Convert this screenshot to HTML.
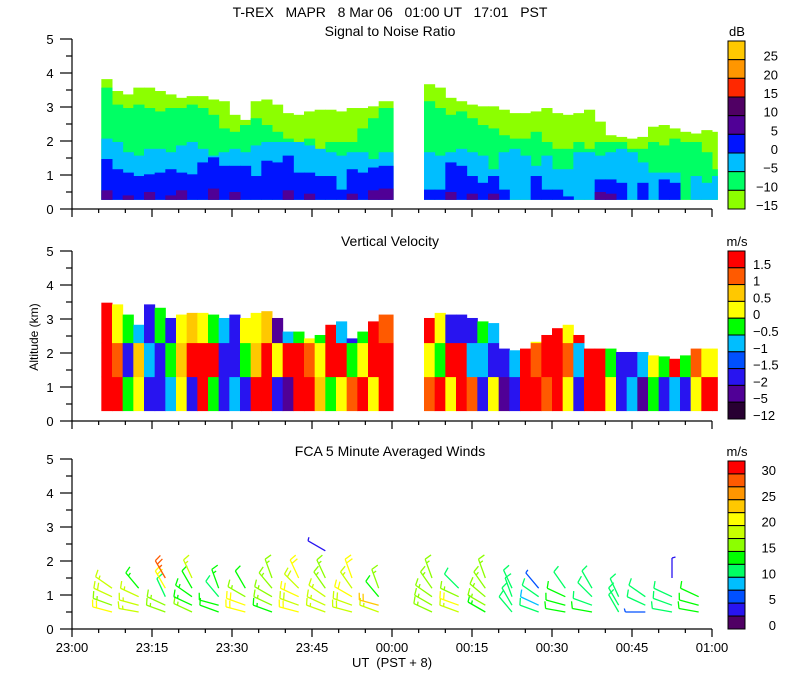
<!DOCTYPE html>
<html><head><meta charset="utf-8"><style>
html,body{margin:0;padding:0;background:#fff;}
svg{display:block;font-family:"Liberation Sans",sans-serif;}
</style></head><body>
<svg id="chart" width="800" height="700" viewBox="0 0 800 700" xmlns="http://www.w3.org/2000/svg">
<text x="390" y="17" font-size="14" text-anchor="middle" style="white-space:pre">T-REX   MAPR   8 Mar 06   01:00 UT   17:01   PST</text>
<text x="390" y="36" font-size="14" text-anchor="middle">Signal to Noise Ratio</text>
<text x="390" y="246" font-size="14" text-anchor="middle">Vertical Velocity</text>
<text x="390" y="456" font-size="14" text-anchor="middle">FCA 5 Minute Averaged Winds</text>
<text x="38" y="337" font-size="12" text-anchor="middle" transform="rotate(-90 38 337)">Altitude (km)</text>
<text x="392" y="667" font-size="13" text-anchor="middle" style="white-space:pre">UT  (PST + 8)</text>
<g id="layers"></g>
</svg>
<script>
// ---- shared axis data ----
const xTickLabels = ["23:00","23:15","23:30","23:45","00:00","00:15","00:30","00:45","01:00"];
const yTickLabels = ["0","1","2","3","4","5"];
// ---- SNR panel data (altitudes in km of class tops) ----
const snrTimes1 = [5.5,7.5,9.5,11.5,13.5,15.5,17.5,19.5,21.5,23.5,25.5,27.5,29.5,31.5,33.5,35.5,37.5,39.5,41.5,43.5,45.5,47.5,49.5,51.5,53.5,55.5,57.5];
const snrTimes2 = [66,68,70,72,74,76,78,80,82,84,86,88,90,92,94,96,98,100,102,104,106,108,110,112,114,116,118,120];
const snrTop = [3.82,3.47,3.37,3.57,3.57,3.47,3.37,3.27,3.32,3.32,3.22,3.17,2.77,2.62,3.17,3.22,3.07,2.82,2.77,2.87,2.92,2.92,2.87,2.97,2.97,3.02,3.17,
 3.67,3.57,3.27,3.17,3.07,3.02,3.02,2.92,2.82,2.82,2.87,2.97,2.82,2.77,2.82,2.92,2.57,2.17,2.12,2.07,2.12,2.42,2.47,2.37,2.27,2.22,2.32,2.27];
const snrGreenTop = [3.57,3.07,2.97,3.07,2.97,2.87,2.97,2.97,3.07,2.97,2.77,2.37,2.27,2.47,2.67,2.47,2.27,2.07,1.97,2.07,1.67,1.97,1.97,1.97,2.37,2.67,2.97,
 3.17,2.97,2.77,2.87,2.67,2.47,2.37,2.17,2.07,2.07,2.27,1.97,1.77,1.77,1.97,1.77,1.97,1.97,1.97,1.77,1.77,1.97,1.87,2.07,1.97,1.97,1.67,1.17];
const snrCyanTop = [2.07,1.97,1.67,1.57,1.77,1.77,1.67,1.87,1.97,1.77,1.57,1.67,1.77,1.67,1.87,1.97,1.97,1.97,1.97,1.87,1.77,1.67,1.57,1.67,1.67,1.47,1.67,
 1.67,1.57,1.67,1.77,1.67,1.57,1.17,1.67,1.77,1.57,1.27,1.57,1.17,1.17,1.67,1.67,1.57,1.67,1.77,1.67,1.37,1.07,1.07,1.07,0.27,0.97,0.77,0.97];
const snrBlueTop = [1.47,1.17,1.07,0.97,1.02,1.07,1.17,1.07,1.02,1.37,1.52,1.27,1.27,1.27,0.97,1.42,1.37,1.57,1.07,1.07,0.97,0.97,0.57,1.17,1.07,1.22,1.27,
 0.57,0.57,1.37,1.27,0.97,0.77,0.97,0.57,0.27,0.27,0.97,0.57,0.57,0.37,0.27,0.27,0.87,0.87,0.77,0.27,0.77,0.27,0.87,0.77,0.27,0.27,0.27,0.27];
const snrPurpleTop = [0.55,0.27,0.4,0.27,0.5,0.27,0.4,0.55,0.27,0.27,0.6,0.27,0.5,0.27,0.27,0.27,0.27,0.55,0.27,0.45,0.27,0.27,0.27,0.45,0.27,0.55,0.6,
 0.27,0.27,0.5,0.27,0.45,0.27,0.45,0.27,0.27,0.27,0.27,0.27,0.27,0.27,0.27,0.27,0.5,0.45,0.27,0.27,0.27,0.27,0.27,0.27,0.27,0.27,0.27,0.27];
const snrColors = ["#ffc800","#ff9600","#ff2800","#500064","#500096","#0014ff","#00beff","#00ff64","#8cff00"];
// ---- vertical velocity data ----
const velTop = [3.48,3.43,3.13,2.83,3.43,3.33,3.03,3.13,3.18,3.18,3.13,3.03,3.13,3.03,3.18,3.23,3.03,2.63,2.63,2.43,2.53,2.83,2.93,2.43,2.63,2.93,3.13,
 3.03,3.18,3.13,3.13,3.03,2.93,2.88,2.13,2.08,2.13,2.33,2.53,2.73,2.83,2.53,2.13,2.13,2.13,2.03,2.03,2.03,1.93,1.9,1.83,1.93,2.13,2.13,2.13];
const velLow = [2,2,-0.3,0.2,-1.7,-1.8,-0.8,0.3,-1.8,2,-0.3,-1.8,-1,-1.8,2,2,-1.8,-3,2,2,0.8,-0.3,0.2,1,2,0.2,2,
 1,2,0.3,2,1,-1.8,0.3,-3,-1.8,2,2,1,2,0.3,-1.8,2,2,0.3,-1.8,-1,-3,-0.3,-1.8,-1,-1.8,0.3,2,2];
const velMid = [2,1,-1.7,0.8,-1,-1.6,-0.3,0.8,2,2,2,-1.8,-1.8,-0.3,0.8,2,0.3,2,2,1.2,0.3,2,2,-0.3,0.3,2,2,
 0.3,-0.3,2,2,-1,-1,-1.8,-1.7,-1,2,1,2,2,1,-1,2,2,-0.3,-1.7,-1.8,-1,0.3,-0.3,2,-0.3,1,0.3,0.3];
const velHigh = [2,0.3,-0.3,-0.8,-1.7,-0.3,-1.7,0.3,0.8,0.3,-0.3,-1,-1.8,0.3,0.2,0.8,-3,-1,-0.3,0.2,-0.3,2,-1,-1.7,-0.3,2,1,
 2,0.2,-1.8,-1.8,-1.7,-0.3,-1,-1.8,-0.3,1,0.3,2,2,0.3,2,1,2,0.3,-0.3,-1.8,-0.3,-1,-1.7,-3,-1,0.3,0.3,0.3];
const velColors = ["#ff0000","#ff5a00","#ffc800","#ffff00","#00ff00","#00beff","#0050ff","#2814f0","#500096","#280032"];
const velLabels = ["1.5","1","0.5","0","\u22120.5","\u22121","\u22121.5","\u22122","\u22125","\u221212"];
const velThresholds = [1.5,1,0.5,0,-0.5,-1,-1.5,-2,-5];
// ---- wind data ----
const windTimes = [7.5,12.5,17.5,22.5,27.5,32.5,37.5,42.5,47.5,52.5,57.5,67.5,72.5,77.5,82.5,87.5,92.5,97.5,102.5,107.5,112.5,117.5];
const windLevels = [0.5,0.7,0.95,1.2,1.5,2.3];
const windSpeed = [
 [20,14,18,17,null,null],[17,17,17,13,null,null],[16,16,9,21,27,null],[14,13,13,12,17,null],
 [12,12,11,13,null,null],[20,20,16,12,null,null],[13,16,16,16,16,null],[20,18,20,18,19,null],
 [17,17,17,16,14,3],[18,18,20,17,20,null],[17,22,12,16,null,null],
 [14,14,16,15,15,null],[17,20,16,10,null,null],[13,14,14,14,15,null],[9,10,9,10,null,null],
 [9,8,9,4,null,null],[12,12,12,10,null,null],[12,9,9,9,null,null],[9,9,9,null,null,null],
 [5,11,11,null,null,null],[11,11,11,null,3,null],[12,12,12,null,null,null]];
const windDir = [
 [285,290,295,305,330,330],[280,285,295,320,330,330],[290,295,335,330,330,330],[295,295,305,330,335,330],
 [290,285,320,340,330,330],[285,290,300,330,330,330],[290,295,300,320,340,330],[285,290,295,315,335,330],
 [290,295,305,325,335,300],[285,290,300,325,340,330],[290,285,320,340,330,330],
 [295,300,305,325,340,330],[290,290,295,315,330,330],[300,300,310,325,340,330],[320,330,340,335,330,330],
 [290,295,305,320,330,330],[280,285,295,325,330,330],[280,290,315,330,330,330],[330,330,335,330,330,330],
 [270,295,305,330,330,360],[280,290,295,330,360,330],[280,285,295,330,330,330]];
const windColors = ["#500064","#2814f0","#0050ff","#00beff","#00ff64","#00ff00","#8cff00","#c8ff00","#ffff00","#ffc800","#ff9600","#ff5a00","#ff0000"];
const windLabels = ["0","5","10","15","20","25","30"];

// ---- axis functions ----
const X0 = 72, PXMIN = 640/120;
const xScale = m => X0 + m*PXMIN;
const panels = [{base:209,name:"snr"},{base:421,name:"velocity"},{base:629,name:"winds"}];
const yScale = (p, km) => panels[p].base - km*34;
const NS = "http://www.w3.org/2000/svg";
const root = document.getElementById('layers');
function mk(tag, attrs, parent){ const e=document.createElementNS(NS,tag); for(const k in attrs) e.setAttribute(k,attrs[k]); (parent||root).appendChild(e); return e; }

// ---- SNR ----
const gS = mk('g',{});


const snrLayers = [[snrTop,8],[snrGreenTop,7],[snrCyanTop,6],[snrBlueTop,5],[snrPurpleTop,4]];
const allTimes = snrTimes1.concat(snrTimes2);
function colSpan(i){
  const t=allTimes[i];
  let t2;
  if(i===snrTimes1.length-1) t2=60.2; else if(i===allTimes.length-1) t2=121; else t2=allTimes[i+1];
  return [t,t2];
}
for(const [arr,ci] of snrLayers){
  for(let i=0;i<allTimes.length;i++){
    const [t1,t2]=colSpan(i);
    const top=arr[i]; if(top<=0.28) continue;
    const r=mk('rect',{x:xScale(t1),y:yScale(0,top),width:xScale(t2)-xScale(t1)+0.5,height:yScale(0,0.27)-yScale(0,top),fill:snrColors[ci]},gS);
    
    
  }
}
// ---- velocity ----
const gV = mk('g',{});


function velColor(v){ for(let k=0;k<velThresholds.length;k++){ if(v>=velThresholds[k]) return velColors[k]; } return velColors[9]; }
for(let i=0;i<allTimes.length;i++){
  const [t1,t2]=colSpan(i);
  const top=velTop[i];
  const segs=[[0.3,1.3,velLow[i]],[1.3,2.3,velMid[i]],[2.3,top,velHigh[i]]];
  for(const [a,b0,v] of segs){
    const b=Math.min(b0,top); if(b<=a) continue;
    const r=mk('rect',{x:xScale(t1),y:yScale(1,b),width:xScale(t2)-xScale(t1)+0.5,height:yScale(1,a)-yScale(1,b)+0.3,fill:velColor(v)},gV);
    
    
  }
}
// ---- winds ----
const gW = mk('g',{});


function windColor(s){ return windColors[Math.max(0,Math.min(12,Math.round(s/2.5)))]; }
for(let i=0;i<windTimes.length;i++){
  for(let l=0;l<windLevels.length;l++){
    const s=windSpeed[i][l]; if(s===null) continue;
    const d=windDir[i][l]*Math.PI/180;
    const ox=xScale(windTimes[i]), oy=yScale(2,windLevels[l]);
    const ux=Math.sin(d), uy=-Math.cos(d);
    const L=20, ex=ox+ux*L, ey=oy+uy*L;
    const col=windColor(s);
    const g=mk('g',{stroke:col,'stroke-width':1.3,fill:'none'},gW);
    
    
    mk('line',{x1:ox,y1:oy,x2:ex,y2:ey},g);
    const px=-uy, py=ux;
    let rem=s, k=0;
    while(rem>=7.5 && k<3){
      const bx=ex-ux*k*4, by=ey-uy*k*4;
      mk('line',{x1:bx,y1:by,x2:bx+px*7+ux*2,y2:by+py*7+uy*2},g);
      rem-=10; k++;
    }
    if(rem>=2.5 && k<3){
      const bx=ex-ux*k*4, by=ey-uy*k*4;
      mk('line',{x1:bx,y1:by,x2:bx+px*3.5+ux*1,y2:by+py*3.5+uy*1},g);
    }
  }
}
// ---- axes ----
panels.forEach((p,pi)=>{
  const g=mk('g',{stroke:'#000','stroke-width':1.2});
  
  
  mk('line',{x1:X0,y1:yScale(pi,0),x2:X0,y2:yScale(pi,5)},g);
  mk('line',{x1:X0,y1:yScale(pi,0),x2:712,y2:yScale(pi,0)},g);
  for(let h=0;h<=10;h++){
    const y=yScale(pi,h/2);
    mk('line',{x1:h%2===0?60:66,y1:y,x2:X0,y2:y},g);
  }
  for(let m=0;m<=120;m+=5){
    const x=xScale(m);
    mk('line',{x1:x,y1:yScale(pi,0),x2:x,y2:yScale(pi,0)+(m%15===0?8:4)},g);
  }
  yTickLabels.forEach((lab,k)=>{
    const t=mk('text',{x:50,y:yScale(pi,k)+5,'font-size':13,'text-anchor':'middle',stroke:'none'});
    t.textContent=lab;
    
    
  });
});
xTickLabels.forEach((lab,k)=>{
  const t=mk('text',{x:xScale(k*15),y:652,'font-size':13,'text-anchor':'middle'});
  t.textContent=lab;
  
  
});
// ---- colorbars ----
function colorbar(name, colors, top, bottom, unit, labels, labelPos, anchor, lx){
  const g=mk('g',{});
  
  
  const h=(bottom-top)/colors.length;
  colors.forEach((c,k)=>{
    const r=mk('rect',{x:728,y:top+k*h,width:17,height:h,fill:c,stroke:'#000','stroke-width':1},g);
    
    
  });
  const u=mk('text',{x:737,y:top-5,'font-size':13,'text-anchor':'middle'},g);
  u.textContent=unit;
  
  
  labels.forEach((lab,k)=>{
    const t=mk('text',{x:lx,y:labelPos(k,h)+5,'font-size':13,'text-anchor':anchor},g);
    t.textContent=lab;
    
    
  });
}
const snrBarLabels = ["25","20","15","10","5","0","\u22125","\u221210","\u221215"];
colorbar('snr-colorbar',snrColors,41,209,'dB',snrBarLabels,(k,h)=>41+(k+1)*h-4,'end',778);
colorbar('velocity-colorbar',velColors,251,419,'m/s',velLabels,(k,h)=>251+(k+1)*h-4,'start',753);
colorbar('wind-colorbar',windColors.slice().reverse(),461,629,'m/s',windLabels,(k,h)=>629-k*2*h-4,'end',776);
</script>
</body></html>
